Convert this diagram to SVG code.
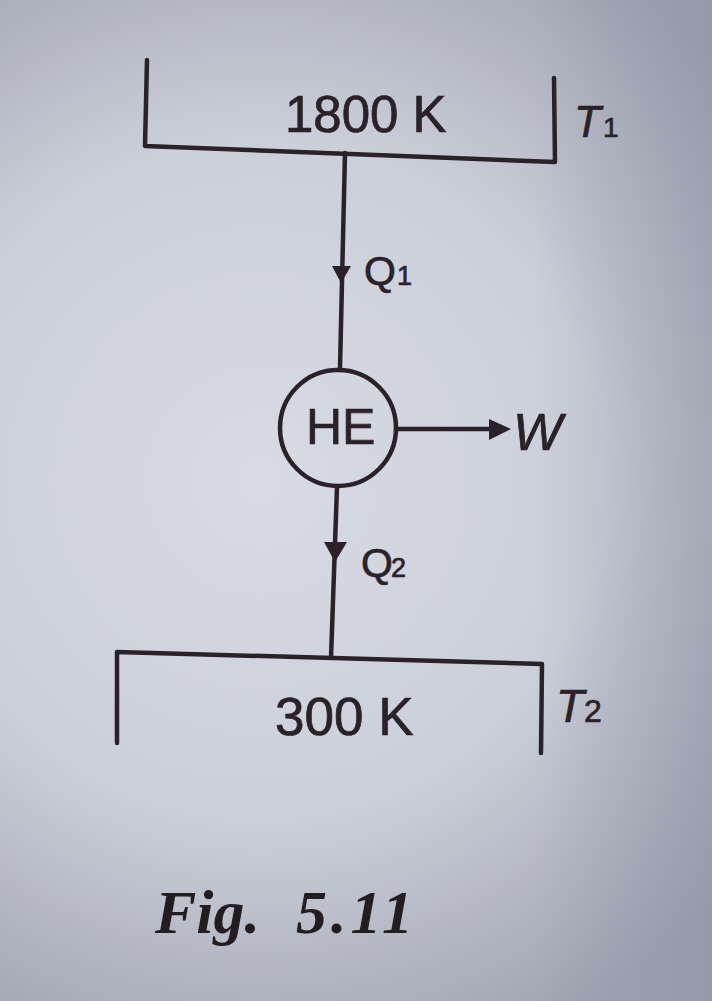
<svg xmlns="http://www.w3.org/2000/svg" width="712" height="1001" viewBox="0 0 712 1001">
<defs>
<radialGradient id="bg" cx="260" cy="480" r="620" gradientUnits="userSpaceOnUse">
<stop offset="0" stop-color="#d8dbe4"/>
<stop offset="0.55" stop-color="#cbcfd9"/>
<stop offset="1" stop-color="#9fa2b0"/>
</radialGradient>
<linearGradient id="rs" x1="0" y1="0" x2="1" y2="0">
<stop offset="0.75" stop-color="#8c8fa0" stop-opacity="0"/>
<stop offset="1" stop-color="#8c8fa0" stop-opacity="0.45"/>
</linearGradient>
<style>
.ln{fill:none;stroke:#2a2228;stroke-width:4.5;stroke-linecap:round;stroke-linejoin:round}
.ah{fill:#2a2228}
.t{font-family:"Liberation Sans",Arial,sans-serif;fill:#2a2228;stroke:#2a2228;stroke-width:0.7}
.it{font-style:italic}
.cap{font-family:"Liberation Serif","Times New Roman",serif;font-weight:bold;font-style:italic;fill:#231c20}
</style>
</defs>
<rect width="712" height="1001" fill="url(#bg)"/>
<rect width="712" height="1001" fill="url(#rs)"/>
<g id="hot-reservoir">
<path class="ln" d="M147,60 L145,146 L555,162 L554,78"/>
<text class="t" x="285" y="132" font-size="51">1800 K</text>
<text class="t it" x="574" y="137" font-size="44">T<tspan font-size="28" font-style="normal" dx="2">1</tspan></text>
</g>
<g id="heat-engine">
<circle class="ln" cx="338" cy="428" r="58"/>
<text class="t" x="306" y="444" font-size="50">HE</text>
</g>
<g id="cold-reservoir">
<path class="ln" d="M117,743 L117,652 L542,664 L541,753"/>
<text class="t" x="275" y="735" font-size="53">300 K</text>
<text class="t it" x="556" y="722" font-size="46">T<tspan font-size="32" font-style="normal" dx="0">2</tspan></text>
</g>
<g id="connectors">
<path class="ln" d="M345,153 L340,368"/>
<polygon class="ah" points="332,266 351,266 341,283"/>
<text class="t" x="364" y="285" font-size="41">Q<tspan font-size="27" dx="1">1</tspan></text>
<path class="ln" d="M337,487 L331,658"/>
<polygon class="ah" points="324,542 347,542 335,562"/>
<text class="t" x="361" y="577" font-size="41">Q<tspan font-size="27" dx="-2">2</tspan></text>
<path class="ln" d="M396,429 L495,429"/>
<polygon class="ah" points="489,419 511,429 489,440"/>
<text class="t it" x="513" y="450" font-size="52">W</text>
</g>
<g id="caption">
<text class="cap" x="155" y="933" font-size="62">Fig.</text>
<text class="cap" x="296" y="933" font-size="62" letter-spacing="4">5.11</text>
</g>
</svg>
